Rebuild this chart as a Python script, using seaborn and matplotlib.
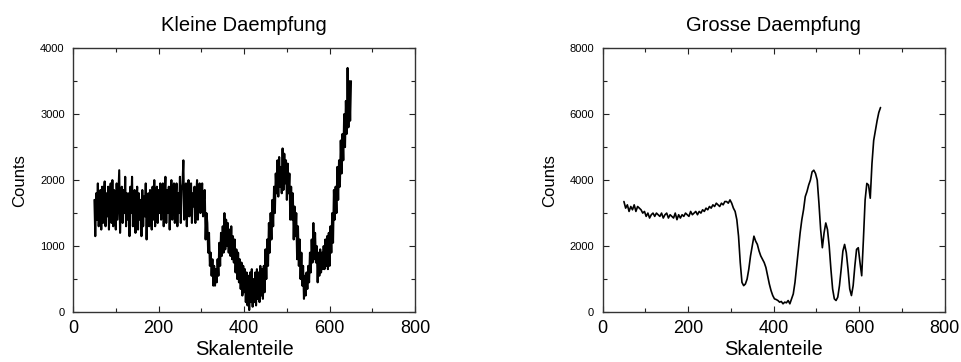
import numpy as np
import pandas as pd
import matplotlib
matplotlib.use("Agg")
import matplotlib.pyplot as plt
import seaborn as sns
from matplotlib.ticker import MultipleLocator

# ---- data ----
channels_kleine = list(range(50, 651, 2))
counts_kleine = [
    1700, 1150, 1800, 1400, 1950, 1300, 1650, 1850, 1250, 1900, 1350, 1750, 1980, 1300, 1800, 1450, 1900, 1250, 1700, 1950,
    1350, 2000, 1300, 1850, 1600, 1250, 1950, 1400, 1800, 2150, 1200, 1700, 1900, 1350, 1850, 1500, 2050, 1300, 1800, 1400,
    1800, 1150, 1900, 1500, 2050, 1300, 1750, 1850, 1200, 1650, 1900, 1250, 1800, 1400, 1700, 1150, 1850, 1300, 1750, 1450,
    1950, 1100, 1700, 1800, 1300, 1850, 1500, 1250, 1900, 1400, 2000, 1300, 1750, 1900, 1350, 1850, 1500, 1950, 1400, 1800,
    1950, 1300, 1750, 2050, 1350, 1850, 1500, 1900, 1250, 1800, 2000, 1400, 1850, 1950, 1350, 1700, 1950, 1300, 1800, 1500,
    2050, 1350, 1850, 1950, 2300, 1400, 1800, 1950, 1300, 1700, 2000, 1450, 1850, 1950, 1350, 1800, 1600, 1900, 1350, 1750,
    2000, 1400, 1850, 1950, 1500, 1800, 1950, 1450, 1700, 1850, 1100, 1500, 1350, 900, 1200, 700, 900, 550, 800, 400,
    700, 400, 650, 450, 800, 550, 1050, 700, 1200, 850, 1300, 900, 1500, 950, 1400, 1000, 1350, 900, 1250, 850,
    1300, 800, 1150, 750, 1100, 600, 950, 500, 900, 450, 800, 350, 750, 250, 700, 300, 650, 150, 600, 100,
    550, 30, 600, 150, 650, 80, 500, 150, 600, 100, 650, 200, 600, 150, 700, 250, 650, 200, 700, 300,
    950, 500, 1100, 700, 1350, 900, 1500, 1100, 1700, 1300, 1900, 1500, 2100, 1800, 2300, 1750, 2350, 1900, 2200, 1800,
    2480, 1850, 2400, 1950, 2300, 1700, 2250, 1800, 2100, 1400, 1900, 1400, 1800, 1100, 1600, 1150, 1500, 800, 1300, 700,
    1100, 500, 900, 400, 700, 200, 550, 250, 600, 350, 700, 450, 900, 600, 1100, 750, 1350, 800, 1200, 750,
    1000, 450, 900, 550, 950, 600, 900, 650, 1000, 650, 1100, 700, 1150, 650, 1200, 700, 1300, 900, 1500, 1050,
    1850, 1400, 1900, 1500, 2200, 1700, 2300, 1900, 2600, 2100, 2700, 2300, 3000, 2500, 3200, 2700, 3700, 2800, 3500, 2900,
    3500,
]

channels_grosse = list(range(50, 651, 4))
counts_grosse = [
    3350, 3150, 3250, 3050, 3200, 3100, 3250, 3050, 3200, 3150,
    3100, 3000, 3050, 2900, 3000, 2850, 2950, 3000, 2900, 3000,
    2950, 2900, 3000, 2850, 2950, 3000, 2850, 2950, 2900, 2850,
    3000, 2800, 2950, 2850, 2950, 2900, 3000, 2950, 2900, 3050,
    2950, 3000, 3050, 2950, 3050, 3000, 3100, 3050, 3150, 3100,
    3200, 3150, 3250, 3200, 3300, 3250, 3200, 3300, 3250, 3350,
    3350, 3300, 3400, 3300, 3150, 3050, 2800, 2300, 1500, 900,
    800, 850, 1000, 1300, 1700, 2000, 2300, 2150, 2050, 1850,
    1700, 1600, 1500, 1350, 1100, 850, 650, 500, 400, 380,
    350, 300, 320, 250, 300, 280, 350, 250, 400, 550,
    900, 1400, 1900, 2400, 2800, 3100, 3500, 3650, 3850, 4000,
    4250, 4300, 4200, 4000, 3300, 2500, 1950, 2400, 2700, 2500,
    2000, 1300, 700, 400, 350, 450, 800, 1300, 1850, 2050,
    1800, 1300, 700, 500, 800, 1400, 1900, 1950, 1500, 1100,
    2200, 3400, 3900, 3850, 3450, 4500, 5200, 5500, 5800, 6050,
    6200,
]

titles = ["Kleine Daempfung", "Grosse Daempfung"]
x_label = "Skalenteile"
y_label = "Counts"
y_max = [4000, 8000]
y_major = [1000, 2000]
x_ticks = [0, 200, 400, 600, 800]

# ---- styling ----
sns.set_theme(style="ticks")
plt.rcParams["font.family"] = ["Liberation Sans", "DejaVu Sans"]
plt.rcParams["text.color"] = "black"
plt.rcParams["axes.labelcolor"] = "black"
plt.rcParams["xtick.labelcolor"] = "black"
plt.rcParams["ytick.labelcolor"] = "black"

fig = plt.figure(figsize=(9.61, 3.62), dpi=100)
ax_pos = [[0.076, 0.138, 0.356, 0.729], [0.627, 0.138, 0.356, 0.729]]

xs = [channels_kleine, channels_grosse]
series = [counts_kleine, counts_grosse]
lws = [1.5, 1.2]
for i in range(2):
    ax = fig.add_axes(ax_pos[i])
    df = pd.DataFrame({"Skalenteile": xs[i], "Counts": series[i]})
    sns.lineplot(data=df, x="Skalenteile", y="Counts", ax=ax, color="black",
                 linewidth=lws[i], estimator=None, sort=False)
    ax.set_xlim(0, 800)
    ax.set_ylim(0, y_max[i])
    ax.set_xticks(x_ticks)
    ax.xaxis.set_minor_locator(MultipleLocator(100))
    ax.yaxis.set_major_locator(MultipleLocator(y_major[i]))
    ax.yaxis.set_minor_locator(MultipleLocator(y_major[i] / 2))
    ax.tick_params(axis="both", which="both", direction="in",
                   top=True, right=True, color="#222222", width=0.8)
    ax.tick_params(axis="both", which="major", length=4)
    ax.tick_params(axis="both", which="minor", length=3)
    ax.tick_params(axis="x", which="major", labelsize=13, pad=6)
    ax.tick_params(axis="y", which="major", labelsize=8, pad=6)
    for sp in ax.spines.values():
        sp.set_visible(True)
        sp.set_color("#333333")
        sp.set_linewidth(1.0)
    ax.set_xlabel(x_label, fontsize=14.5, labelpad=2)
    ax.set_ylabel(y_label, fontsize=12, labelpad=9)
    ax.set_title(titles[i], fontsize=14.5, pad=12)

fig.savefig("out.png", dpi=100, facecolor="white")
